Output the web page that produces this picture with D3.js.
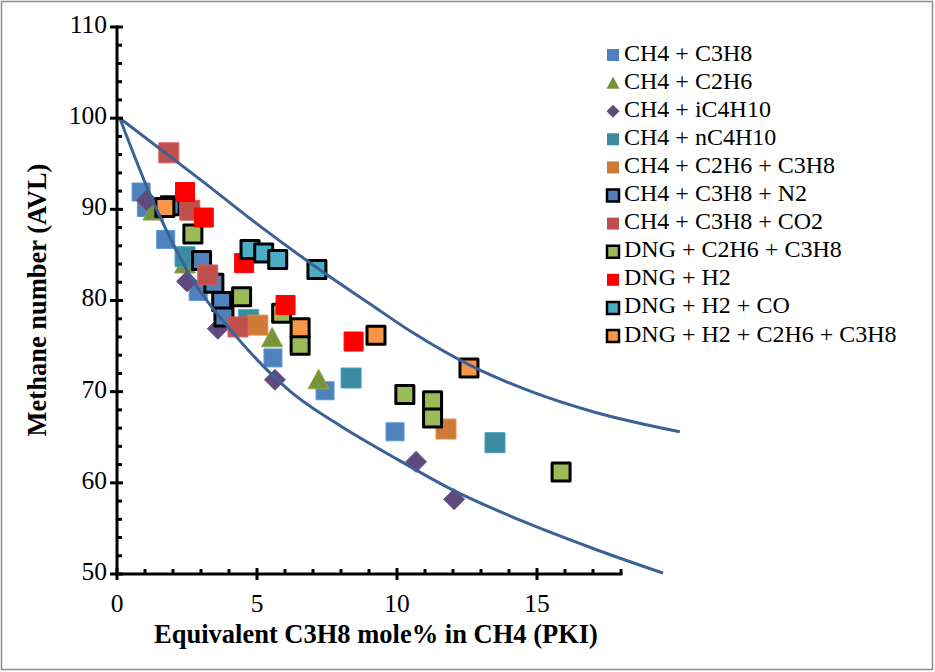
<!DOCTYPE html>
<html>
<head>
<meta charset="utf-8">
<script src="https://cdn.jsdelivr.net/npm/d3@7/dist/d3.min.js"></script>
<style>
  body { margin: 0; background: #fff; }
  svg { display: block; }
  text { font-family: "Liberation Serif", "Times New Roman", serif; fill: #000; }
</style>
</head>
<body>
<svg id="chart" width="935" height="672"></svg>
<script>
// series data: [PKI C3H8 %, methane number]
const ch4C3h8 = [[0.86, 91.9], [1.05, 90.2], [1.74, 86.7], [2.9, 81.0], [5.57, 73.7], [7.43, 70.1], [9.93, 65.6]];
const ch4C2h6 = [[1.3, 89.8], [2.43, 84.0], [5.54, 75.9], [7.2, 71.3]];
const ch4Ic4 = [[1.06, 91.0], [2.5, 82.1], [3.6, 76.9], [5.64, 71.3], [10.68, 62.3], [12.04, 58.2]];
const ch4Nc4 = [[2.43, 84.8], [4.7, 77.9], [8.36, 71.5], [13.5, 64.4]];
const ch4C2C3 = [[5.03, 77.3], [11.75, 65.9]];
const ch4C3N2 = [[1.9, 90.4], [3.02, 84.4], [3.46, 81.9], [3.74, 79.9], [3.82, 78.2]];
const ch4C3Co2 = [[1.85, 96.2], [2.6, 89.9], [3.24, 82.8], [4.32, 77.1]];
const dngC2C3 = [[2.71, 87.3], [4.45, 80.4], [5.88, 78.6], [6.54, 75.1], [10.28, 69.7], [11.27, 69.0], [11.27, 67.1], [15.86, 61.2]];
const dngH2 = [[2.43, 91.9], [3.1, 89.1], [4.54, 84.1], [6.02, 79.5], [8.45, 75.5]];
const dngH2Co = [[4.75, 85.6], [5.24, 85.2], [5.74, 84.5], [7.14, 83.4]];
const dngH2C2C3 = [[1.71, 90.2], [6.54, 77.0], [9.25, 76.2], [12.57, 72.6]];

// boundary curves
const upperCurve = [[0.1, 100], [3, 93.2], [5, 88.4], [7, 83.9], [9, 79.7], [10.5, 76.6], [12.8, 72.6], [14.8, 70.0], [17, 67.8], [20.1, 65.6]];
const lowerCurve = [[0.1, 100], [1.2, 91.5], [2.6, 82.8], [4.3, 75.9], [6.2, 70.0], [8, 66.2], [10, 62.6], [12, 59.2], [14.4, 55.9], [17, 52.8], [19.5, 50.1]];

const xTicks = [0, 5, 10, 15];
const yTicks = [50, 60, 70, 80, 90, 100, 110];

const series = [
  { name: "CH4 + C3H8", data: ch4C3h8, shape: "square", fill: "#4F81BD", border: false, size: 18 },
  { name: "CH4 + C2H6", data: ch4C2h6, shape: "triangle", fill: "#77933C", border: false, size: 21 },
  { name: "CH4 + iC4H10", data: ch4Ic4, shape: "diamond", fill: "#604A7B", border: false, size: 21 },
  { name: "CH4 + nC4H10", data: ch4Nc4, shape: "square", fill: "#3B8CA0", border: false, size: 20 },
  { name: "CH4 + C2H6 + C3H8", data: ch4C2C3, shape: "square", fill: "#CD7B38", border: false, size: 20 },
  { name: "CH4 + C3H8 + N2", data: ch4C3N2, shape: "square", fill: "#4F81BD", border: true, size: 18 },
  { name: "CH4 + C3H8 + CO2", data: ch4C3Co2, shape: "square", fill: "#C0504D", border: false, size: 20 },
  { name: "DNG + C2H6 + C3H8", data: dngC2C3, shape: "square", fill: "#9BBB59", border: true, size: 18 },
  { name: "DNG + H2", data: dngH2, shape: "square", fill: "#FF0000", border: false, size: 19 },
  { name: "DNG + H2 + CO", data: dngH2Co, shape: "square", fill: "#4BACC6", border: true, size: 18 },
  { name: "DNG + H2 + C2H6 + C3H8", data: dngH2C2C3, shape: "square", fill: "#F79646", border: true, size: 18 }
];

const svg = d3.select("#chart");

// outer frame
svg.append("rect")
  .attr("x", 1.5).attr("y", 1.5)
  .attr("width", 931).attr("height", 668)
  .attr("fill", "none").attr("stroke", "#8c8c8c").attr("stroke-width", 1.5);

const x = d3.scaleLinear().domain([0, 18]).range([117, 621]);
const y = d3.scaleLinear().domain([50, 110]).range([574, 27]);

// markers
function shapePath(shape, s) {
  const h = s / 2;
  if (shape === "triangle") return `M0,${-h}L${h},${h * 0.85}L${-h},${h * 0.85}Z`;
  if (shape === "diamond") return `M0,${-h}L${h},0L0,${h}L${-h},0Z`;
  return `M${-h},${-h}H${h}V${h}H${-h}Z`;
}

series.forEach(s => {
  svg.append("g")
    .selectAll("path")
    .data(s.data)
    .join("path")
    .attr("transform", d => `translate(${x(d[0])},${y(d[1])})`)
    .attr("d", shapePath(s.shape, s.size))
    .attr("fill", s.fill)
    .attr("stroke", s.border ? "#000" : d3.color(s.fill).brighter(0.4))
    .attr("stroke-width", s.border ? 3 : 1)
    .attr("stroke-linejoin", "round");
});

// boundary curves
const line = d3.line()
  .x(d => x(d[0]))
  .y(d => y(d[1]))
  .curve(d3.curveMonotoneX);

[upperCurve, lowerCurve].forEach(c => {
  svg.append("path")
    .datum(c)
    .attr("d", line)
    .attr("fill", "none")
    .attr("stroke", "#3B6196")
    .attr("stroke-width", 3);
});

// axes
const xAxis = svg.append("g").attr("transform", `translate(0,${y(50)})`);
xAxis.append("line")
  .attr("x1", x(0) - 1.5).attr("x2", x(18) + 1.5)
  .attr("stroke", "#000").attr("stroke-width", 3);
xAxis.selectAll(".minor")
  .data(d3.range(0, 19))
  .join("line")
  .attr("x1", d => x(d)).attr("x2", d => x(d))
  .attr("y1", d => d % 5 === 0 ? -6 : 0)
  .attr("y2", d => d % 5 === 0 ? 6 : -5)
  .attr("stroke", "#000").attr("stroke-width", 3);
xAxis.selectAll(".lbl")
  .data(xTicks)
  .join("text")
  .attr("x", d => x(d))
  .attr("y", 32)
  .attr("text-anchor", "middle")
  .attr("dominant-baseline", "middle")
  .attr("font-size", 25.5)
  .text(d => d);

const yAxis = svg.append("g").attr("transform", `translate(${x(0)},0)`);
yAxis.append("line")
  .attr("y1", y(110) - 1.5).attr("y2", y(50) + 1.5)
  .attr("stroke", "#000").attr("stroke-width", 3);
yAxis.selectAll(".minor")
  .data(d3.range(50, 111, 2))
  .join("line")
  .attr("y1", d => y(d)).attr("y2", d => y(d))
  .attr("x1", d => d % 10 === 0 ? -7 : 0)
  .attr("x2", d => d % 10 === 0 ? 6 : 5)
  .attr("stroke", "#000").attr("stroke-width", 3);
yAxis.selectAll(".lbl")
  .data(yTicks)
  .join("text")
  .attr("x", -10)
  .attr("y", d => y(d))
  .attr("text-anchor", "end")
  .attr("dominant-baseline", "middle")
  .attr("font-size", 25.5)
  .text(d => d);

// axis titles
svg.append("text")
  .attr("x", 376).attr("y", 637)
  .attr("text-anchor", "middle")
  .attr("dominant-baseline", "middle")
  .attr("font-size", 26.5)
  .attr("font-weight", "bold")
  .text("Equivalent C3H8 mole% in CH4 (PKI)");

svg.append("text")
  .attr("transform", "translate(40,300) rotate(-90)")
  .attr("text-anchor", "middle")
  .attr("dominant-baseline", "middle")
  .attr("font-size", 26.5)
  .attr("font-weight", "bold")
  .text("Methane number (AVL)");

// legend
const leg = svg.append("g");
series.forEach((s, i) => {
  const ly = 55 + i * 28.1;
  const ls = s.shape === "square" ? 12 : 13;
  leg.append("path")
    .attr("transform", `translate(613,${ly})`)
    .attr("d", shapePath(s.shape, ls))
    .attr("fill", s.fill)
    .attr("stroke", s.border ? "#000" : "none")
    .attr("stroke-width", s.border ? 2.5 : 0);
  leg.append("text")
    .attr("x", 624).attr("y", ly)
    .attr("dominant-baseline", "middle")
    .attr("font-size", 24)
    .text(s.name);
});
</script>
</body>
</html>
